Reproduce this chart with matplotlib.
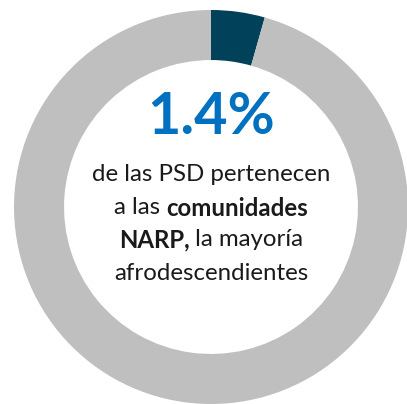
# donut chart with the share of PSD belonging to NARP communities
import matplotlib.pyplot as plt

# slice shares as drawn (dark slice, rest)
labels = ["NARP", "Resto"]
shares = [4.4, 95.6]
colors = ["#02415A", "#BFBFBF"]

big_number = "1.4%"
# each line is a list of (text, bold) pieces
lines = [
    [("de las PSD pertenecen", False)],
    [("a las ", False), ("comunidades", True)],
    [("NARP,", True), (" la mayoría", False)],
    [("afrodescendientes", False)],
]

fig = plt.figure(figsize=(4.07, 4.04), dpi=100)
ax = fig.add_axes([0, 0, 1, 1])
ax.pie(shares, colors=colors, startangle=90, counterclock=False,
       radius=1.0, wedgeprops=dict(width=0.254, edgecolor="none"))
ax.set_xlim(-211 / 197, (407 - 211) / 197)
ax.set_ylim(-197 / 197, 207 / 197)
ax.set_aspect("auto")
ax.axis("off")

font = "Lato"
ax.text(0, (207 - 117) / 197, big_number, ha="center", va="center",
        fontsize=41.5, fontweight="bold", color="#0070C0", family=font)

# place the mixed bold / regular pieces centred on each line
fig.canvas.draw()
renderer = fig.canvas.get_renderer()
line_y = [175, 208, 240, 273]
for pieces, ypx in zip(lines, line_y):
    texts = []
    for txt, bold in pieces:
        t = fig.text(0, 1 - ypx / 404, txt, ha="left", va="center",
                     fontsize=17.3, color="#1A1A1A", family=font,
                     fontweight="bold" if bold else "normal")
        texts.append(t)
    widths = [t.get_window_extent(renderer).width for t in texts]
    x = 211 - sum(widths) / 2
    for t, w in zip(texts, widths):
        t.set_x(x / 407)
        x += w

fig.savefig("out.png", dpi=100)
